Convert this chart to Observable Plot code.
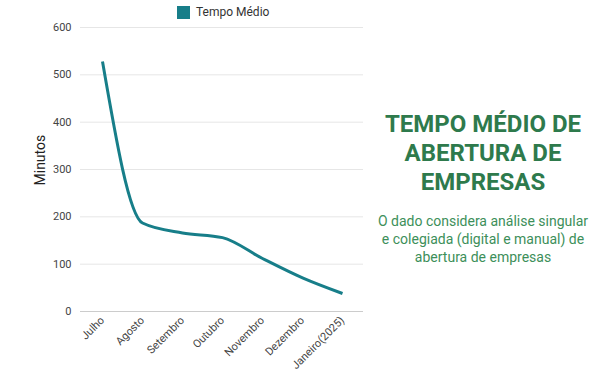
<!DOCTYPE html>
<html>
<head>
<meta charset="utf-8">
<script src="https://cdn.jsdelivr.net/npm/d3@7"></script>
<script src="https://cdn.jsdelivr.net/npm/@observablehq/plot@0.6"></script>
<style>
  html, body { margin: 0; padding: 0; background: #fff; }
  #wrap { position: relative; width: 600px; height: 375px; font-family: Roboto, sans-serif; overflow: hidden; }
  #legend { position: absolute; left: 177px; top: 5px; display: flex; align-items: center; font-size: 12px; color: #333; }
  #legend .sw { width: 13px; height: 13px; background: #177e89; margin-right: 6px; }
  #title { position: absolute; left: 370px; width: 226px; top: 110px; text-align: center; font-weight: bold; font-size: 24px; line-height: 29px; color: #2e7a4c; }
  #sub { position: absolute; left: 366px; width: 234px; top: 212px; text-align: center; font-size: 14px; line-height: 18px; color: #3d8f5a; }
  svg { position: absolute; left: 0; top: 0; }
</style>
</head>
<body>
<div id="wrap">
  <div id="legend"><div class="sw"></div><span>Tempo Médio</span></div>
  <div id="title">TEMPO MÉDIO DE<br>ABERTURA DE<br>EMPRESAS</div>
  <div id="sub">O dado considera análise singular<br>e colegiada (digital e manual) de<br>abertura de empresas</div>
</div>
<script>
const months = ["Julho", "Agosto", "Setembro", "Outubro", "Novembro", "Dezembro", "Janeiro(2025)"];
const tempoMedio = [528, 187, 166, 156, 112, 71, 38];
const yTicks = [0, 100, 200, 300, 400, 500, 600];

const data = months.map((m, i) => ({month: m, value: tempoMedio[i]}));

const chart = Plot.plot({
  width: 600,
  height: 375,
  marginTop: 27,
  marginBottom: 64,
  marginLeft: 80,
  marginRight: 237,
  style: {fontFamily: "Roboto, sans-serif", fontSize: "11px", color: "#444", background: "transparent"},
  x: {type: "point", domain: months, padding: 0.5, label: null},
  y: {domain: [0, 600], label: null},
  marks: [
    Plot.gridY(yTicks.filter(d => d > 0), {stroke: "#e6e6e6", strokeOpacity: 1}),
    Plot.ruleY([0], {stroke: "#cccccc"}),
    Plot.axisY({ticks: yTicks, tickSize: 0, tickPadding: 9, fontSize: 11, label: null}),
    Plot.axisX({tickSize: 0, tickRotate: -45, tickPadding: 7, fontSize: 11, label: null}),
    Plot.text(["Minutos"], {frameAnchor: "left", dx: -40, dy: 16, rotate: -90, fontSize: 14, fill: "#222"}),
    Plot.line(data, {x: "month", y: "value", stroke: "#177e89", strokeWidth: 3, curve: "monotone-x", strokeLinecap: "butt"})
  ]
});
document.getElementById("wrap").prepend(chart);
</script>
</body>
</html>
